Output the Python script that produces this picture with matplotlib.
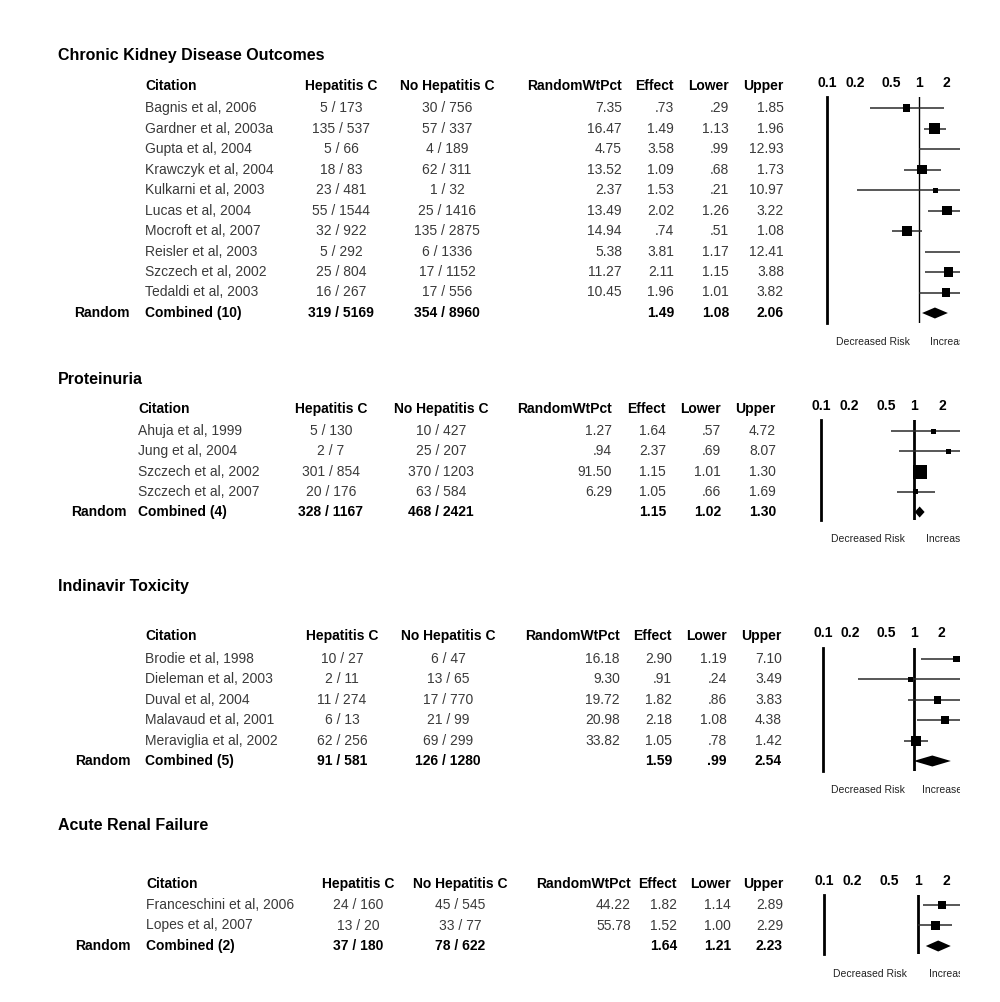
import numpy as np
import matplotlib
matplotlib.use("Agg")
import matplotlib.pyplot as plt
from matplotlib.patches import Rectangle
from matplotlib.ticker import NullLocator

plt.rcParams['font.family'] = ['Liberation Sans', 'DejaVu Sans']

# ---- data: chronic kidney disease outcomes
ckd_cite = ["Bagnis et al, 2006", "Gardner et al, 2003a", "Gupta et al, 2004",
            "Krawczyk et al, 2004", "Kulkarni et al, 2003", "Lucas et al, 2004",
            "Mocroft et al, 2007", "Reisler et al, 2003", "Szczech et al, 2002",
            "Tedaldi et al, 2003"]
ckd_hepc = ["5 / 173", "135 / 537", "5 / 66", "18 / 83", "23 / 481", "55 / 1544",
            "32 / 922", "5 / 292", "25 / 804", "16 / 267"]
ckd_nohep = ["30 / 756", "57 / 337", "4 / 189", "62 / 311", "1 / 32", "25 / 1416",
             "135 / 2875", "6 / 1336", "17 / 1152", "17 / 556"]
ckd_wt = [7.35, 16.47, 4.75, 13.52, 2.37, 13.49, 14.94, 5.38, 11.27, 10.45]
ckd_eff = [0.73, 1.49, 3.58, 1.09, 1.53, 2.02, 0.74, 3.81, 2.11, 1.96]
ckd_lo = [0.29, 1.13, 0.99, 0.68, 0.21, 1.26, 0.51, 1.17, 1.15, 1.01]
ckd_hi = [1.85, 1.96, 12.93, 1.73, 10.97, 3.22, 1.08, 12.41, 3.88, 3.82]
ckd_comb = ["Combined (10)", "319 / 5169", "354 / 8960", 1.49, 1.08, 2.06]

# ---- data: proteinuria
pro_cite = ["Ahuja et al, 1999", "Jung et al, 2004", "Szczech et al, 2002", "Szczech et al, 2007"]
pro_hepc = ["5 / 130", "2 / 7", "301 / 854", "20 / 176"]
pro_nohep = ["10 / 427", "25 / 207", "370 / 1203", "63 / 584"]
pro_wt = [1.27, 0.94, 91.50, 6.29]
pro_eff = [1.64, 2.37, 1.15, 1.05]
pro_lo = [0.57, 0.69, 1.01, 0.66]
pro_hi = [4.72, 8.07, 1.30, 1.69]
pro_comb = ["Combined (4)", "328 / 1167", "468 / 2421", 1.15, 1.02, 1.30]

# ---- data: indinavir toxicity
ind_cite = ["Brodie et al, 1998", "Dieleman et al, 2003", "Duval et al, 2004",
            "Malavaud et al, 2001", "Meraviglia et al, 2002"]
ind_hepc = ["10 / 27", "2 / 11", "11 / 274", "6 / 13", "62 / 256"]
ind_nohep = ["6 / 47", "13 / 65", "17 / 770", "21 / 99", "69 / 299"]
ind_wt = [16.18, 9.30, 19.72, 20.98, 33.82]
ind_eff = [2.90, 0.91, 1.82, 2.18, 1.05]
ind_lo = [1.19, 0.24, 0.86, 1.08, 0.78]
ind_hi = [7.10, 3.49, 3.83, 4.38, 1.42]
ind_comb = ["Combined (5)", "91 / 581", "126 / 1280", 1.59, 0.99, 2.54]

# ---- data: acute renal failure
arf_cite = ["Franceschini et al, 2006", "Lopes et al, 2007"]
arf_hepc = ["24 / 160", "13 / 20"]
arf_nohep = ["45 / 545", "33 / 77"]
arf_wt = [44.22, 55.78]
arf_eff = [1.82, 1.52]
arf_lo = [1.14, 1.00]
arf_hi = [2.89, 2.29]
arf_comb = ["Combined (2)", "37 / 180", "78 / 622", 1.64, 1.21, 2.23]

tick_vals = [0.1, 0.2, 0.5, 1, 2]
tick_labs = ["0.1", "0.2", "0.5", "1", "2"]
headers = ["Citation", "Hepatitis C", "No Hepatitis C", "RandomWtPct", "Effect", "Lower", "Upper"]

W, H = 1000, 1002
fig = plt.figure(figsize=(W / 100, H / 100), dpi=100)
bg = fig.add_axes([0, 0, 1, 1])
bg.set_xlim(0, W)
bg.set_ylim(H, 0)
bg.axis('off')

GREY = '#3a3a3a'
FS = 10


def fmt(v):
    s = "%.2f" % v
    return s[1:] if s.startswith("0") else s


def panel(title, cite, hepc, nohep, wt, eff, lo, hi, comb, L):
    # layout: title y, header y, first row y, row step, column x's, forest box
    bg.text(58, L['ty'], title, fontsize=11.5, fontweight='bold', va='center')
    cx = L['cols']  # cite left, hepc centre, nohep centre, wt/eff/lo/hi right
    hy = L['hy']
    bg.text(cx[0], hy, headers[0], fontsize=FS, fontweight='bold', va='center')
    bg.text(cx[1], hy, headers[1], fontsize=FS, fontweight='bold', va='center', ha='center')
    bg.text(cx[2], hy, headers[2], fontsize=FS, fontweight='bold', va='center', ha='center')
    for k in range(4):
        bg.text(cx[3 + k], hy, headers[3 + k], fontsize=FS, fontweight='bold', va='center', ha='right')

    n = len(cite)
    ys = L['y0'] + L['step'] * np.arange(n)
    for i in range(n):
        y = ys[i]
        bg.text(cx[0], y, cite[i], fontsize=FS, va='center', color=GREY)
        bg.text(cx[1], y, hepc[i], fontsize=FS, va='center', ha='center', color=GREY)
        bg.text(cx[2], y, nohep[i], fontsize=FS, va='center', ha='center', color=GREY)
        for k, v in enumerate([wt[i], eff[i], lo[i], hi[i]]):
            bg.text(cx[3 + k], y, fmt(v), fontsize=FS, va='center', ha='right', color=GREY)
    yc = L['y0'] + L['step'] * n
    bg.text(L['rand'], yc, "Random", fontsize=FS, fontweight='bold', va='center', ha='right')
    bg.text(cx[0], yc, comb[0], fontsize=FS, fontweight='bold', va='center')
    bg.text(cx[1], yc, comb[1], fontsize=FS, fontweight='bold', va='center', ha='center')
    bg.text(cx[2], yc, comb[2], fontsize=FS, fontweight='bold', va='center', ha='center')
    for k, v in enumerate(comb[3:]):
        bg.text(cx[4 + k], yc, fmt(v), fontsize=FS, fontweight='bold', va='center', ha='right')

    # forest plot
    x0, dec, xr = L['fx0'], L['dec'], 960
    fy0, fy1 = L['fy']
    ax = fig.add_axes([x0 / W, 1 - fy1 / H, (xr - x0) / W, (fy1 - fy0) / H])
    ax.set_xscale('log')
    ax.set_xlim(0.1, 10 ** (-1 + (xr - x0) / dec))
    ax.set_ylim(fy1, fy0)
    ax.patch.set_visible(False)
    for s in ['top', 'right', 'bottom']:
        ax.spines[s].set_visible(False)
    ax.spines['left'].set_linewidth(2)
    ax.axvline(1, color='black', lw=L['nullw'])
    ax.hlines(ys, lo, hi, color='#2a2a2a', lw=1.1)
    w = np.array(wt)
    side = np.maximum(5, L['maxsq'] * np.sqrt(w / w.max())) * 0.72
    ax.scatter(eff, ys, marker='s', s=side ** 2, color='black', zorder=3, linewidths=0)
    ce, cl, ch = comb[3], comb[4], comb[5]
    ax.fill([cl, ce, ch, ce], [yc, yc - 5.5, yc, yc + 5.5], color='black', lw=0)
    ax.set_yticks([])
    ax.xaxis.set_minor_locator(NullLocator())
    ax.set_xticks(tick_vals)
    ax.set_xticklabels(tick_labs, fontsize=FS, fontweight='bold')
    ax.xaxis.set_ticks_position('top')
    ax.tick_params(axis='x', length=0, pad=fy0 - hy - 6)

    bg.text(L['dx'], L['dy'], "Decreased Risk", fontsize=7.5, va='center', ha='center', color='#222222')
    t = bg.text(L['ix'], L['dy'], "Increased Risk", fontsize=7.5, va='center', ha='left', color='#222222',
                clip_on=True)
    t.set_clip_path(Rectangle((0, 0), xr, H, transform=bg.transData))


panel("Chronic Kidney Disease Outcomes", ckd_cite, ckd_hepc, ckd_nohep, ckd_wt, ckd_eff, ckd_lo, ckd_hi, ckd_comb,
      dict(ty=55, hy=86, y0=108, step=20.5, cols=[145, 341, 447, 622, 674, 729, 784], rand=130,
           fx0=827, dec=92, fy=(97, 323), nullw=1.0, maxsq=11, dx=873, ix=930, dy=342))
panel("Proteinuria", pro_cite, pro_hepc, pro_nohep, pro_wt, pro_eff, pro_lo, pro_hi, pro_comb,
      dict(ty=380, hy=409, y0=431, step=20.25, cols=[138, 331, 441, 612, 666, 721, 776], rand=127,
           fx0=821, dec=93, fy=(420, 520), nullw=2.0, maxsq=14, dx=868, ix=926, dy=539))
panel("Indinavir Toxicity", ind_cite, ind_hepc, ind_nohep, ind_wt, ind_eff, ind_lo, ind_hi, ind_comb,
      dict(ty=586, hy=636, y0=659, step=20.4, cols=[145, 342, 448, 620, 672, 727, 782], rand=131,
           fx0=823, dec=91, fy=(648, 771), nullw=2.0, maxsq=10, dx=868, ix=922, dy=790))
panel("Acute Renal Failure", arf_cite, arf_hepc, arf_nohep, arf_wt, arf_eff, arf_lo, arf_hi, arf_comb,
      dict(ty=826, hy=884, y0=905, step=20.5, cols=[146, 358, 460, 631, 677, 731, 783], rand=131,
           fx0=824, dec=94, fy=(895, 954), nullw=2.0, maxsq=9, dx=870, ix=929, dy=974))

fig.savefig("out.png", dpi=100)
